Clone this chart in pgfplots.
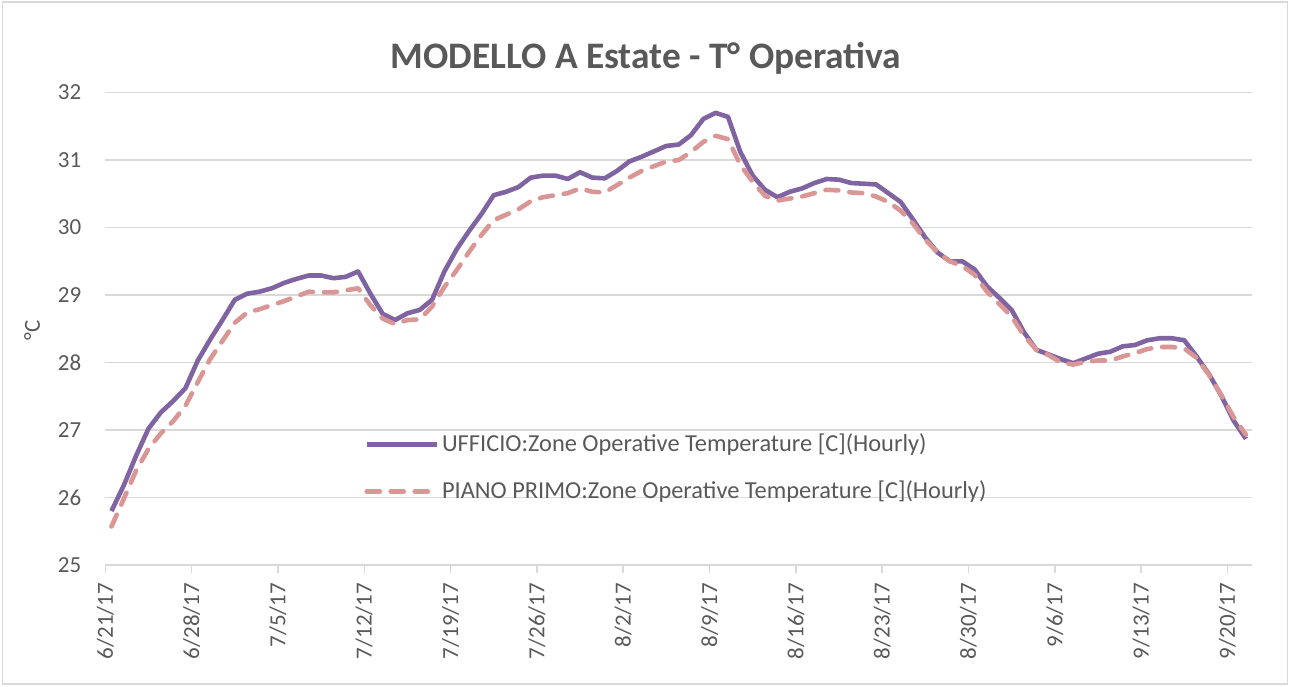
\documentclass[border=0pt]{standalone}
\usepackage{pgfplots}
\pgfplotsset{compat=1.18}
\usepackage{pgfplotstable}
\usepackage{fontspec}
\setmainfont{Carlito}
\definecolor{uff}{HTML}{8064A2}
\definecolor{pp}{HTML}{D99694}
\definecolor{gridc}{HTML}{D9D9D9}
\definecolor{txt}{HTML}{595959}

% daily means, x = days since 6/21/17
\pgfplotstableread{
d u p
0.5 25.80 25.57
1.5 26.18 25.98
2.5 26.62 26.40
3.5 27.02 26.72
4.5 27.26 26.95
5.5 27.43 27.13
6.5 27.62 27.36
7.5 28.03 27.71
8.5 28.34 28.05
9.5 28.63 28.32
10.5 28.93 28.59
11.5 29.02 28.74
12.5 29.05 28.79
13.5 29.10 28.85
14.5 29.18 28.91
15.5 29.24 28.98
16.5 29.29 29.05
17.5 29.29 29.04
18.5 29.25 29.04
19.5 29.27 29.07
20.5 29.35 29.10
21.5 29.02 28.85
22.5 28.72 28.65
23.5 28.63 28.57
24.5 28.73 28.63
25.5 28.78 28.64
26.5 28.93 28.83
27.5 29.35 29.12
28.5 29.68 29.37
29.5 29.95 29.64
30.5 30.20 29.89
31.5 30.48 30.11
32.5 30.53 30.19
33.5 30.60 30.27
34.5 30.74 30.39
35.5 30.77 30.45
36.5 30.77 30.48
37.5 30.72 30.51
38.5 30.82 30.58
39.5 30.74 30.53
40.5 30.73 30.52
41.5 30.84 30.63
42.5 30.98 30.74
43.5 31.05 30.84
44.5 31.13 30.91
45.5 31.21 30.98
46.5 31.23 31.00
47.5 31.37 31.12
48.5 31.61 31.27
49.5 31.70 31.36
50.5 31.64 31.31
51.5 31.12 30.93
52.5 30.77 30.68
53.5 30.56 30.47
54.5 30.45 30.40
55.5 30.53 30.43
56.5 30.58 30.46
57.5 30.66 30.51
58.5 30.72 30.56
59.5 30.71 30.55
60.5 30.66 30.52
61.5 30.65 30.51
62.5 30.64 30.46
63.5 30.51 30.38
64.5 30.38 30.25
65.5 30.12 30.06
66.5 29.85 29.82
67.5 29.63 29.63
68.5 29.50 29.50
69.5 29.50 29.43
70.5 29.38 29.30
71.5 29.13 29.05
72.5 28.96 28.87
73.5 28.78 28.68
74.5 28.45 28.40
75.5 28.19 28.19
76.5 28.12 28.11
77.5 28.05 28.00
78.5 27.99 27.97
79.5 28.06 28.01
80.5 28.13 28.03
81.5 28.16 28.03
82.5 28.24 28.09
83.5 28.26 28.14
84.5 28.33 28.20
85.5 28.36 28.23
86.5 28.36 28.23
87.5 28.33 28.21
88.5 28.09 28.07
89.5 27.83 27.82
90.5 27.51 27.52
91.5 27.14 27.19
92.5 26.87 26.93
}\temps

\begin{document}
\begin{tikzpicture}
\useasboundingbox (-52.65pt,-60.5pt) rectangle (592.35pt,282.5pt);
\draw[gridc, line width=0.75pt] (-51.5pt,-59.5pt) rectangle (591.2pt,281.5pt);
\begin{axis}[
  scale only axis, width=573.4pt, height=236.2pt,
  xmin=0, xmax=93, ymin=25, ymax=32,
  axis x line*=bottom, axis y line*=left,
  x axis line style={-, gridc, line width=0.75pt},
  y axis line style={draw=none},
  xtick={0,7,...,91},
  xticklabels={6/21/17,6/28/17,7/5/17,7/12/17,7/19/17,7/26/17,8/2/17,8/9/17,8/16/17,8/23/17,8/30/17,9/6/17,9/13/17,9/20/17},
  ytick={25,...,32},
  /pgf/number format/assume math mode=true,
  xtick style={gridc, line width=0.75pt},
  ytick style={draw=none},
  tick align=outside, major tick length=4pt,
  ymajorgrids, grid style={gridc, line width=0.75pt},
  every tick label/.append style={font=\fontsize{11.5}{13}\selectfont, text=txt},
  xticklabel style={rotate=90, anchor=east, xshift=-1.5pt},
  yticklabel style={xshift=-4.5pt},
  legend style={at={(0.2204,0.295)}, anchor=north west, draw=none, fill=none,
    font=\fontsize{12.2}{14}\selectfont, text=txt, row sep=9pt,
    nodes={inner xsep=1.5pt}},
  legend cell align=left,
  legend image code/.code={\draw[#1] (0pt,0pt) -- (35pt,0pt);},
]
\addplot[uff, line width=2.3pt, line join=round] table[x=d, y=u] {\temps};
\addlegendentry{UFFICIO:Zone Operative Temperature [C](Hourly)}
\addplot[pp, line width=2.3pt, line cap=round, line join=round, dash pattern=on 6.5pt off 5.5pt] table[x=d, y=p] {\temps};
\addlegendentry{PIANO PRIMO:Zone Operative Temperature [C](Hourly)}
\end{axis}
\node[font=\bfseries\fontsize{18.7}{22}\selectfont, text=txt] at (270.35pt,253.5pt) {MODELLO A Estate - T° Operativa};
\node[rotate=90, font=\fontsize{11.5}{13}\selectfont, text=txt] at (-36.65pt,117.5pt) {°C};
\end{tikzpicture}
\end{document}
